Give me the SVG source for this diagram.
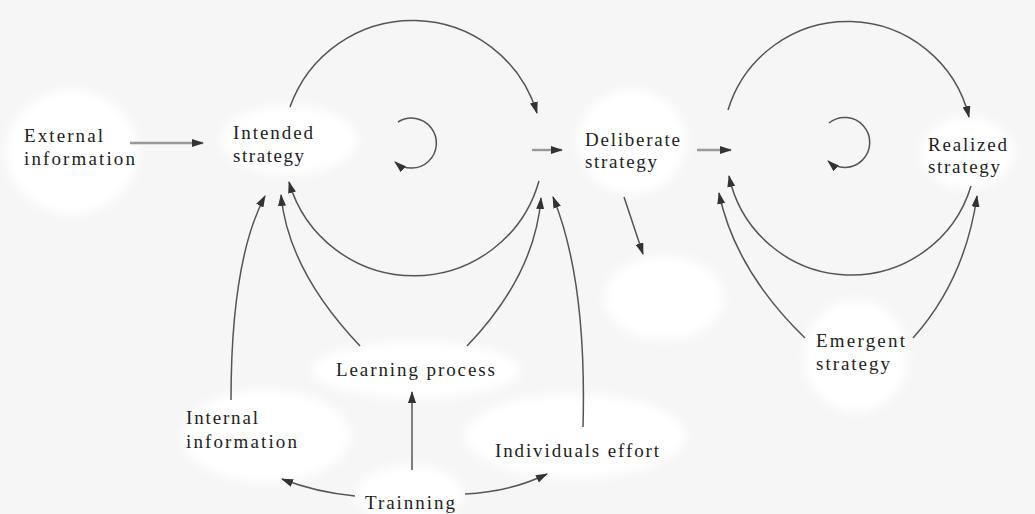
<svg xmlns="http://www.w3.org/2000/svg" width="1035" height="514" viewBox="0 0 1035 514">
<style>
text{font-family:'Liberation Serif',Tinos,'Times New Roman','DejaVu Serif','Noto Serif',FreeSerif,serif;font-size:19px;fill:#1e1e1e}
.c{fill:none;stroke:#555;stroke-width:1.5}
.g{fill:none;stroke:#999;stroke-width:2.4}
.b{fill:#ffffff;filter:url(#blur)}
</style>
<defs>
<filter id="blur" x="-20%" y="-20%" width="140%" height="140%"><feGaussianBlur stdDeviation="5"/></filter>
<marker id="ah" viewBox="0 0 12 8" refX="11" refY="4" markerWidth="12" markerHeight="8" markerUnits="userSpaceOnUse" orient="auto">
<path d="M0,0 L12,4 L0,8 z" fill="#333"/>
</marker>
</defs>
<rect width="1035" height="514" fill="#f6f6f6"/>

<g id="blank"><ellipse class="b" cx="664" cy="298" rx="60" ry="42"/></g>

<g id="external"><ellipse class="b" cx="72" cy="152" rx="66" ry="62"/>
<text x="24" y="142" textLength="79" lengthAdjust="spacing">External</text>
<text x="24" y="165" textLength="111" lengthAdjust="spacing">information</text></g>

<g id="intended"><ellipse class="b" cx="289" cy="140" rx="68" ry="34"/>
<text x="233" y="139" textLength="80" lengthAdjust="spacing">Intended</text>
<text x="233" y="162" textLength="71" lengthAdjust="spacing">strategy</text></g>

<g id="deliberate"><ellipse class="b" cx="632" cy="142" rx="54" ry="52"/>
<text x="585" y="146" textLength="95" lengthAdjust="spacing">Deliberate</text>
<text x="585" y="168" textLength="72" lengthAdjust="spacing">strategy</text></g>

<g id="realized"><ellipse class="b" cx="967" cy="153" rx="46" ry="36"/>
<text x="928" y="151" textLength="79" lengthAdjust="spacing">Realized</text>
<text x="928" y="173" textLength="72" lengthAdjust="spacing">strategy</text></g>

<g id="learning"><ellipse class="b" cx="416" cy="370" rx="104" ry="28"/>
<text x="336" y="376" textLength="159" lengthAdjust="spacing">Learning process</text></g>

<g id="internal"><ellipse class="b" cx="266" cy="436" rx="84" ry="46"/>
<text x="186" y="424" textLength="72" lengthAdjust="spacing">Internal</text>
<text x="186" y="448" textLength="111" lengthAdjust="spacing">information</text></g>

<g id="individuals"><ellipse class="b" cx="575" cy="436" rx="110" ry="42"/>
<text x="495" y="457" textLength="164" lengthAdjust="spacing">Individuals effort</text></g>

<g id="trainning"><ellipse class="b" cx="410" cy="494" rx="54" ry="28"/>
<text x="365" y="509" textLength="90" lengthAdjust="spacing">Trainning</text></g>

<g id="emergent"><ellipse class="b" cx="856" cy="356" rx="52" ry="56"/>
<text x="816" y="347" textLength="89" lengthAdjust="spacing">Emergent</text>
<text x="816" y="370" textLength="74" lengthAdjust="spacing">strategy</text></g>

<g id="connectors">
<path class="g" d="M130,143 L203,143" marker-end="url(#ah)"/>
<path class="g" d="M532,150 L562,150" marker-end="url(#ah)"/>
<path class="g" d="M697,150 L731,150" marker-end="url(#ah)"/>
<path class="c" d="M290,107 A130,130 0 0 1 537,113" marker-end="url(#ah)"/>
<path class="c" d="M539,181 A130,130 0 0 1 289,182" marker-end="url(#ah)"/>
<path class="c" d="M398,122 A25,25 0 1 1 395,162" marker-end="url(#ah)"/>
<path class="c" d="M728,110 A125,125 0 0 1 969,117" marker-end="url(#ah)"/>
<path class="c" d="M971,186 A125,125 0 0 1 729,176" marker-end="url(#ah)"/>
<path class="c" d="M829,123 A25,25 0 1 1 828,161" marker-end="url(#ah)"/>
<path class="c" d="M624,197 L643,254" marker-end="url(#ah)"/>
<path class="c" d="M231,400 Q231,260 265,196" marker-end="url(#ah)"/>
<path class="c" d="M360,346 Q288,270 281,195" marker-end="url(#ah)"/>
<path class="c" d="M467,346 Q535,275 541,198" marker-end="url(#ah)"/>
<path class="c" d="M583,427 Q587,280 553,197" marker-end="url(#ah)"/>
<path class="c" d="M412,470 L412,392" marker-end="url(#ah)"/>
<path class="c" d="M355,496 Q315,492 282,479" marker-end="url(#ah)"/>
<path class="c" d="M465,494 Q510,492 547,474" marker-end="url(#ah)"/>
<path class="c" d="M805,338 Q735,270 719,193" marker-end="url(#ah)"/>
<path class="c" d="M913,338 Q965,280 977,196" marker-end="url(#ah)"/>
</g>
</svg>
